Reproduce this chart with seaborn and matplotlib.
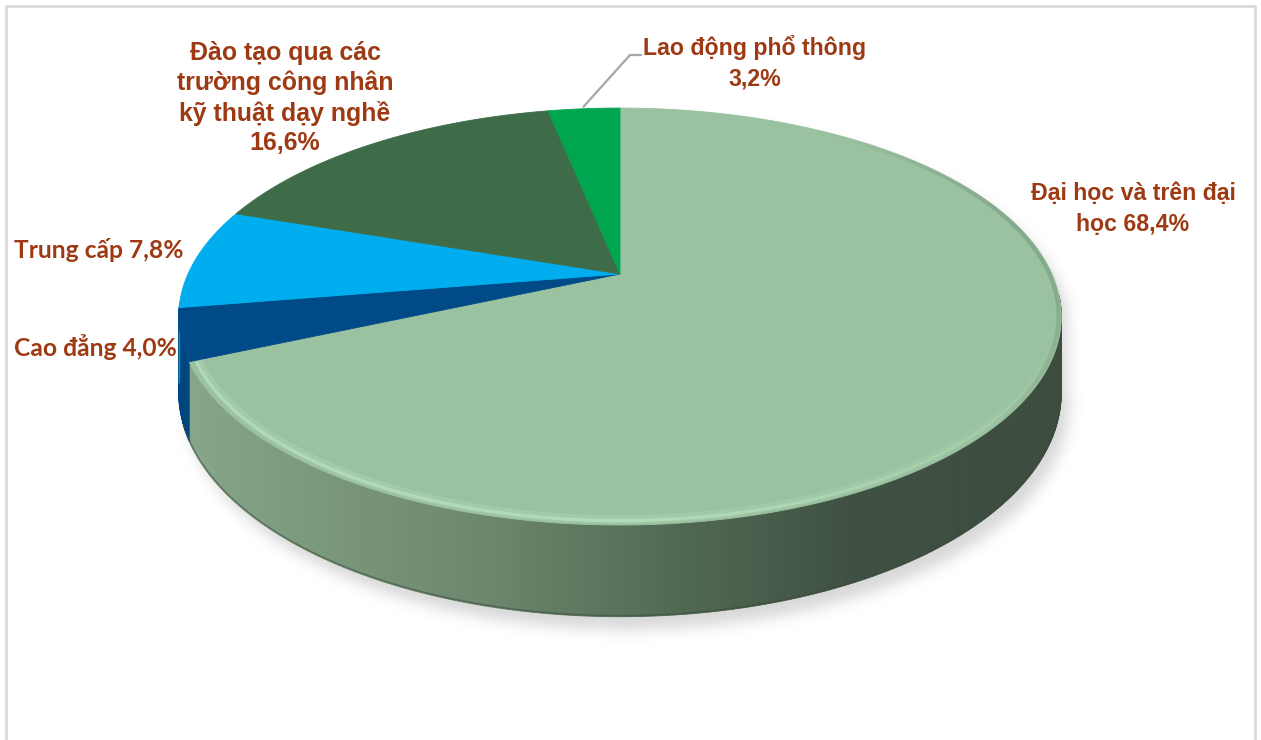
import numpy as np
import matplotlib
matplotlib.use("Agg")
import matplotlib.pyplot as plt
import seaborn as sns
from matplotlib.path import Path
from matplotlib.collections import PolyCollection, LineCollection

# ---------------- data ----------------
categories = ["Đại học và trên đại học", "Cao đẳng", "Trung cấp",
              "Đào tạo qua các trường công nhân kỹ thuật dạy nghề",
              "Lao động phổ thông"]
values = [68.4, 4.0, 7.8, 16.6, 3.2]
labels = ["Đại học và trên đại\nhọc 68,4%", "Cao đẳng 4,0%", "Trung cấp 7,8%",
          "Đào tạo qua các\ntrường công nhân\nkỹ thuật dạy nghề\n16,6%",
          "Lao động phổ thông\n3,2%"]
colors = ["#9AC1A0", "#004B87", "#00AEEF", "#3F6C48", "#00A54F"]
wall_colors = ["#5E7A61", "#00467E", "#0096D0", "#33583B", "#008C43"]

sns.set_style("white")

W, H_PX = 1261, 740
fig = plt.figure(figsize=(W / 100, H_PX / 100), dpi=100)
ax = fig.add_axes([0, 0, 1, 1])
ax.set_xlim(0, W)
ax.set_ylim(H_PX, 0)
ax.axis("off")

# ---------------- perspective geometry ----------------
CX, CY = 620.0, 274.0
A, B, K = 432.0, 199.8, 0.204
DEPTH = 73.0


def proj(theta_deg, r=1.0, drop=0.0):
    t = np.radians(theta_deg)
    u = r * np.sin(t)
    v = r * np.cos(t)
    w = 1 + K * v
    x = CX + A * u / w
    y = CY - B * v / w + drop * DEPTH / w
    return x, y


total = float(sum(values))
edges = np.concatenate([[0.0], np.cumsum(values) / total * 360.0])

# ---------------- soft shadow ----------------
th_back = np.linspace(-98, 98, 200)
th_front = np.linspace(98, 262, 200)
sx1, sy1 = proj(th_back)
sx2, sy2 = proj(th_front, drop=1.0)
sil = np.column_stack([np.concatenate([sx1, sx2]), np.concatenate([sy1, sy2])])
sil = sil + np.array([8.0, 12.0])
step = 2
gx, gy = np.meshgrid(np.arange(0, W, step) + 0.5, np.arange(0, H_PX, step) + 0.5)
mask = Path(sil).contains_points(np.column_stack([gx.ravel(), gy.ravel()])).reshape(gx.shape).astype(float)
sig = 7.0 / step
rad = int(3 * sig)
kern = np.exp(-0.5 * (np.arange(-rad, rad + 1) / sig) ** 2)
kern /= kern.sum()
bl = np.zeros_like(mask)
pad = np.pad(mask, ((0, 0), (rad, rad)))
for i, kv in enumerate(kern):
    bl += kv * pad[:, i:i + mask.shape[1]]
pad = np.pad(bl, ((rad, rad), (0, 0)))
bl2 = np.zeros_like(mask)
for i, kv in enumerate(kern):
    bl2 += kv * pad[i:i + mask.shape[0], :]
rgba = np.zeros(mask.shape + (4,))
rgba[..., :3] = 0.45
rgba[..., 3] = 0.28 * bl2
ax.imshow(rgba, extent=(0, W, H_PX, 0), interpolation="bilinear", zorder=0)

# ---------------- side walls ----------------
ctrl_x = [190, 300, 500, 700, 850, 1060]
ctrl_c = np.array([[134, 166, 137], [124, 154, 125], [106, 133, 108],
                   [78, 102, 80], [63, 80, 66], [60, 76, 62]]) / 255.0

polys, pcols = [], []
for i in range(len(values)):
    a0 = max(edges[i], 96.0)
    a1 = min(edges[i + 1], 262.0)
    if a1 <= a0:
        continue
    ts = np.linspace(a0, a1, max(int((a1 - a0) * 2), 2))
    for t0, t1 in zip(ts[:-1], ts[1:]):
        x0, y0 = proj(t0)
        x1, y1 = proj(t1)
        x0b, y0b = proj(t0, drop=1.0)
        x1b, y1b = proj(t1, drop=1.0)
        polys.append([(x0, y0), (x1, y1), (x1b, y1b), (x0b, y0b)])
        if i == 0:
            xm = 0.5 * (x0 + x1)
            c = [np.interp(xm, ctrl_x, ctrl_c[:, k]) for k in range(3)]
        else:
            c = wall_colors[i]
        pcols.append(c)
ax.add_collection(PolyCollection(polys, facecolors=pcols, edgecolors=pcols,
                                 linewidths=0.6, zorder=2))

# bottom edge darkening
tb = np.linspace(110, 250, 200)
bx, by = proj(tb, drop=1.0)
ax.plot(bx, by - 1.0, color="#3A4A3C", lw=1.2, alpha=0.5, zorder=3)

# ---------------- top faces ----------------
for i in range(len(values)):
    ts = np.linspace(edges[i], edges[i + 1], max(int(values[i] * 8), 8))
    xs, ys = proj(ts)
    xs = np.concatenate([[CX], xs])
    ys = np.concatenate([[CY], ys])
    ax.fill(xs, ys, color=colors[i], lw=0.6, ec=colors[i], zorder=4)


def rim(t_from, t_to, r, rgb, amax, lw, profile):
    tt = np.linspace(t_from, t_to, 300)
    hx, hy = proj(tt, r=r)
    pts = np.column_stack([hx, hy]).reshape(-1, 1, 2)
    segs = np.concatenate([pts[:-1], pts[1:]], axis=1)
    al = profile(tt[:-1]) * amax
    cols = [rgb + (a,) for a in al]
    ax.add_collection(LineCollection(segs, colors=cols, linewidths=lw,
                                     capstyle="butt", zorder=5))


# bevel highlight on front rim of the big slice
prof_front = lambda t: np.clip((t - 105) / 70, 0, 1)
rim(100, edges[1] - 0.3, 0.982, (0.72, 0.89, 0.75), 0.30, 6, prof_front)
rim(100, edges[1] - 0.3, 0.986, (0.76, 0.92, 0.79), 0.50, 2.2, prof_front)

# soft darker rim on right side
prof_right = lambda t: np.sin(np.radians(np.clip((t - 35) / 95, 0, 1) * 180))
rim(35, 130, 0.994, (0.33, 0.45, 0.35), 0.30, 3, prof_right)

# ---------------- labels ----------------
TXT = "#9E3A13"
arial = dict(family=["Liberation Sans", "DejaVu Sans"], fontweight="bold",
             color=TXT, ha="center", va="center", zorder=6)
calib = dict(family=["Lato", "DejaVu Sans"], fontweight="bold",
             fontsize=17.7, color=TXT, ha="left", va="center", zorder=6)

ax.text(1133, 209, labels[0], fontsize=16.7, linespacing=1.42, **arial)
ax.text(14, 347, labels[1], **calib)
ax.text(14, 250, labels[2], **calib)
ax.text(285, 98, labels[3], fontsize=17.9, linespacing=1.27, **arial)
ax.text(755, 63, labels[4], fontsize=16.7, linespacing=1.42, **arial)

# leader line for the smallest slice
mid = 0.5 * (edges[4] + edges[5])
lx, ly = proj(mid, r=1.015)
ax.plot([lx, 630, 641], [ly, 55, 55], color="#A6A6A6", lw=1.6, zorder=6)

# chart border
ax.plot([6, 6, 1255, 1255], [H_PX + 5, 6, 6, H_PX + 5], color="#D9D9D9", lw=2, zorder=1)

fig.savefig("out.png", dpi=100)
